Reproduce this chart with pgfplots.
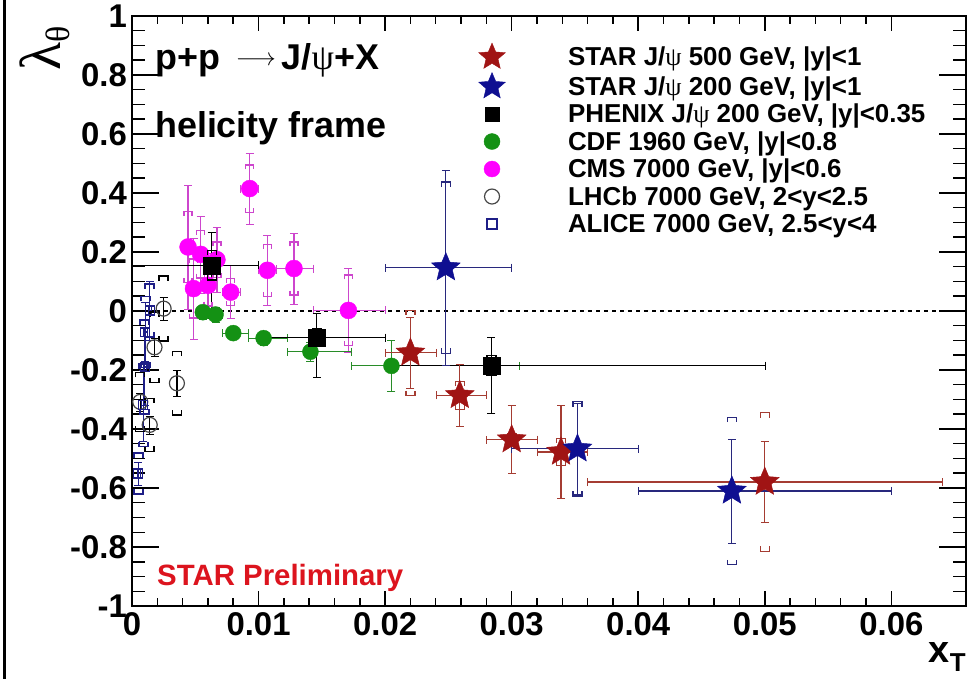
\documentclass[border=0pt]{standalone}
\usepackage{fontspec}
\setmainfont{Liberation Sans}
\newfontfamily\serifgr{Liberation Serif}
\usepackage{pgfplots}
\usepackage{pgfplotstable}
\pgfplotsset{compat=1.18}

\definecolor{red5}{RGB}{160,20,20}
\definecolor{red5e}{RGB}{165,60,50}
\definecolor{blu2}{RGB}{15,15,145}
\definecolor{blu2e}{RGB}{40,40,125}
\definecolor{cdfg}{RGB}{20,145,20}
\definecolor{cdfe}{RGB}{40,140,40}
\definecolor{cmsm}{RGB}{255,0,255}
\definecolor{cmse}{RGB}{205,70,205}
\definecolor{alic}{RGB}{30,30,135}
\definecolor{lhcb}{RGB}{70,70,70}
\definecolor{prelim}{RGB}{220,20,30}

\pgfdeclareplotmark{fstar}{%
  \pgfpathmoveto{\pgfpointpolar{90}{\pgfplotmarksize}}%
  \pgfpathlineto{\pgfpointpolar{126}{0.45\pgfplotmarksize}}%
  \pgfpathlineto{\pgfpointpolar{162}{\pgfplotmarksize}}%
  \pgfpathlineto{\pgfpointpolar{198}{0.45\pgfplotmarksize}}%
  \pgfpathlineto{\pgfpointpolar{234}{\pgfplotmarksize}}%
  \pgfpathlineto{\pgfpointpolar{270}{0.45\pgfplotmarksize}}%
  \pgfpathlineto{\pgfpointpolar{306}{\pgfplotmarksize}}%
  \pgfpathlineto{\pgfpointpolar{342}{0.45\pgfplotmarksize}}%
  \pgfpathlineto{\pgfpointpolar{18}{\pgfplotmarksize}}%
  \pgfpathlineto{\pgfpointpolar{54}{0.45\pgfplotmarksize}}%
  \pgfpathclose
  \pgfusepathqfillstroke
}
\pgfdeclareplotmark{sysup}{%
  \pgfpathmoveto{\pgfpoint{-\pgfplotmarksize}{-1.1\pgfplotmarksize}}%
  \pgfpathlineto{\pgfpoint{-\pgfplotmarksize}{0pt}}%
  \pgfpathlineto{\pgfpoint{\pgfplotmarksize}{0pt}}%
  \pgfpathlineto{\pgfpoint{\pgfplotmarksize}{-1.1\pgfplotmarksize}}%
  \pgfusepathqstroke
}
\pgfdeclareplotmark{sysdn}{%
  \pgfpathmoveto{\pgfpoint{-\pgfplotmarksize}{1.1\pgfplotmarksize}}%
  \pgfpathlineto{\pgfpoint{-\pgfplotmarksize}{0pt}}%
  \pgfpathlineto{\pgfpoint{\pgfplotmarksize}{0pt}}%
  \pgfpathlineto{\pgfpoint{\pgfplotmarksize}{1.1\pgfplotmarksize}}%
  \pgfusepathqstroke
}

% STAR J/psi 500 GeV
\pgfplotstableread{
x y xm xp ym yp sys
0.0220 -0.142 0.0020 0.0020 0.120 0.120 0.145
0.0259 -0.286 0.0019 0.0021 0.105 0.105 0.048
0.0300 -0.436 0.0020 0.0020 0.115 0.115 0.020
0.0339 -0.478 0.0019 0.0021 0.158 0.158 0.047
0.0500 -0.580 0.0140 0.0140 0.137 0.137 0.235
}\starfive
% STAR J/psi 200 GeV
\pgfplotstableread{
x y xm xp ym yp sys
0.0248 0.147 0.0048 0.0052 0.330 0.330 0.290
0.0352 -0.467 0.0052 0.0048 0.155 0.155 0.160
0.0474 -0.610 0.0074 0.0126 0.177 0.177 0.250
}\startwo
% PHENIX
\pgfplotstableread{
x y xm xp ym yp sys
0.0063 0.155 0.0063 0.0037 0.181 0.113 0.050
0.0146 -0.090 0.0046 0.0054 0.134 0.081 0.030
0.0284 -0.185 0.0084 0.0216 0.161 0.097 0.035
}\phenix
% CDF
\pgfplotstableread{
x y xm xp ym yp
0.0056 -0.004 0.0005 0.0005 0.025 0.025
0.0066 -0.012 0.0005 0.00054 0.025 0.025
0.0080 -0.075 0.00086 0.0012 0.020 0.020
0.0104 -0.092 0.0012 0.00184 0.025 0.025
0.0141 -0.138 0.00186 0.00325 0.032 0.032
0.0205 -0.186 0.00315 0.0101 0.087 0.087
}\cdf
% CMS
\pgfplotstableread{
x y xm xp ym yp sys
0.00443 0.217 0.00014 0.00014 0.21 0.21 0.12
0.00486 0.076 0.00029 0.00028 0.17 0.17 0.10
0.00543 0.192 0.00029 0.00028 0.13 0.13 0.08
0.00600 0.087 0.00029 0.00029 0.11 0.11 0.07
0.00671 0.174 0.00042 0.00043 0.11 0.11 0.06
0.00780 0.064 0.00066 0.00077 0.09 0.09 0.045
0.00930 0.415 0.00073 0.00070 0.12 0.12 0.08
0.01070 0.138 0.00070 0.00073 0.12 0.12 0.088
0.01280 0.144 0.00137 0.00149 0.12 0.12 0.09
0.01710 0.002 0.00281 0.00290 0.142 0.142 0.12
}\cms
% LHCb
\pgfplotstableread{
x y ym yp sys
0.00065 -0.308 0.03 0.03 0.10
0.00140 -0.386 0.03 0.03 0.09
0.00178 -0.123 0.03 0.03 0.12
0.00250 0.008 0.04 0.04 0.11
0.00355 -0.245 0.045 0.045 0.108
}\lhcb
% ALICE
\pgfplotstableread{
x y xm xp ym yp sys
0.00050 -0.551 0.00012 0.00012 0.04 0.04 0.07
0.00090 -0.320 0.00015 0.00015 0.12 0.12 0.14
0.00100 -0.190 0.00015 0.00015 0.13 0.13 0.16
0.00105 -0.071 0.00015 0.00015 0.10 0.10 0.12
0.00140 0.002 0.00015 0.00015 0.10 0.10 0.09
}\alice

\pgfplotsset{
  errxy/.style={error bars/.cd, x dir=both, x explicit, y dir=both, y explicit,
    error bar style={line width=1.2bp, color=#1, mark size=4bp}},
  erry/.style={error bars/.cd, y dir=both, y explicit,
    error bar style={line width=1.2bp, color=#1, mark size=4bp}},
  table/tabxy/.style={x=x, y=y, x error minus=xm, x error plus=xp, y error minus=ym, y error plus=yp},
}

\begin{document}
\begin{tikzpicture}
\useasboundingbox (-132bp,-73bp) rectangle (847bp,606bp);
\draw[line width=3bp] (-127bp,-73bp) -- (-127bp,606bp);
\begin{axis}[
  at={(0,0)}, anchor=south west,
  scale only axis, width=834bp, height=590bp,
  xmin=0, xmax=0.0659, ymin=-1, ymax=1,
  scaled ticks=false,
  xtick={0,0.01,0.02,0.03,0.04,0.05,0.06},
  xticklabels={0,0.01,0.02,0.03,0.04,0.05,0.06},
  ytick={-1,-0.8,-0.6,-0.4,-0.2,0,0.2,0.4,0.6,0.8,1},
  yticklabels={-1,-0.8,-0.6,-0.4,-0.2,0,0.2,0.4,0.6,0.8,1},
  minor x tick num=4, minor y tick num=3,
  tick align=inside,
  major tick length=27bp, minor tick length=13bp,
  xtick style={/pgfplots/major tick length=15bp, /pgfplots/minor tick length=8bp},
  every tick/.style={black, line width=1.5bp},
  axis line style={line width=1.8bp},
  /pgf/number format/assume math mode=true,
  ticklabel style={font=\bfseries\fontsize{33}{33}\selectfont},
  xticklabel style={inner sep=3bp, yshift=-3bp},
  yticklabel style={inner sep=3bp, xshift=-2bp},
  legend cell align=left,
  legend image code/.code={\path[draw=none,fill=none] (-14bp,-12bp) rectangle (76bp,12bp); \draw[#1] plot coordinates {(0bp,0bp)};},
  legend style={at={(0.4149,0.9542)}, anchor=north west, draw=none, fill=none,
    inner sep=0pt, outer sep=0pt, row sep=3.5bp, column sep=0bp,
    nodes={inner sep=0pt, anchor=west, font=\bfseries\fontsize{26}{26}\selectfont}},
]
\addplot[black, line width=2bp, dash pattern=on 4bp off 4bp, forget plot] coordinates {(0,0) (0.0659,0)};

% LHCb
\addplot[only marks, mark=sysup, mark size=4.5bp, black, line width=1.5bp, forget plot] table[x=x, y expr=\thisrow{y}+\thisrow{sys}] {\lhcb};
\addplot[only marks, mark=sysdn, mark size=4.5bp, black, line width=1.5bp, forget plot] table[x=x, y expr=\thisrow{y}-\thisrow{sys}] {\lhcb};
\addplot[only marks, mark=o, mark size=7.5bp, lhcb, mark options={line width=1.2bp, fill=white}, forget plot, erry=black]
  table[x=x, y=y, y error minus=ym, y error plus=yp] {\lhcb};

% ALICE
\addplot[only marks, mark=sysup, mark size=4.5bp, alic, line width=1.5bp, forget plot] table[x=x, y expr=\thisrow{y}+\thisrow{sys}] {\alice};
\addplot[only marks, mark=sysdn, mark size=4.5bp, alic, line width=1.5bp, forget plot] table[x=x, y expr=\thisrow{y}-\thisrow{sys}] {\alice};
\addplot[only marks, mark=square, mark size=4.5bp, alic, mark options={line width=1.2bp, fill=white}, forget plot, errxy=alic]
  table[tabxy] {\alice};

% CMS
\addplot[only marks, mark=sysup, mark size=4bp, cmse, line width=1.2bp, forget plot] table[x=x, y expr=\thisrow{y}+\thisrow{sys}] {\cms};
\addplot[only marks, mark=sysdn, mark size=4bp, cmse, line width=1.2bp, forget plot] table[x=x, y expr=\thisrow{y}-\thisrow{sys}] {\cms};
\addplot[only marks, mark=*, mark size=8.5bp, cmsm, mark options={draw=cmsm, fill=cmsm}, forget plot, errxy=cmse]
  table[tabxy] {\cms};

% CDF
\addplot[only marks, mark=*, mark size=8bp, cdfg, mark options={draw=cdfg, fill=cdfg}, forget plot, errxy=cdfe]
  table[tabxy] {\cdf};

% PHENIX
\addplot[only marks, mark=sysup, mark size=4.5bp, black, line width=1.2bp, forget plot] table[x=x, y expr=\thisrow{y}+\thisrow{sys}] {\phenix};
\addplot[only marks, mark=sysdn, mark size=4.5bp, black, line width=1.2bp, forget plot] table[x=x, y expr=\thisrow{y}-\thisrow{sys}] {\phenix};
\addplot[only marks, mark=square*, mark size=8.5bp, black, mark options={draw=black, fill=black}, forget plot, errxy=black]
  table[tabxy] {\phenix};

% STAR 500
\addplot[only marks, mark=sysup, mark size=4.5bp, red5e, line width=1.2bp, forget plot] table[x=x, y expr=\thisrow{y}+\thisrow{sys}] {\starfive};
\addplot[only marks, mark=sysdn, mark size=4.5bp, red5e, line width=1.2bp, forget plot] table[x=x, y expr=\thisrow{y}-\thisrow{sys}] {\starfive};
\addplot[only marks, mark=fstar, mark size=15bp, red5, mark options={draw=red5, fill=red5, line width=0.5bp}, forget plot, errxy=red5e]
  table[tabxy] {\starfive};

% STAR 200
\addplot[only marks, mark=sysup, mark size=4.5bp, blu2e, line width=1.2bp, forget plot] table[x=x, y expr=\thisrow{y}+\thisrow{sys}] {\startwo};
\addplot[only marks, mark=sysdn, mark size=4.5bp, blu2e, line width=1.2bp, forget plot] table[x=x, y expr=\thisrow{y}-\thisrow{sys}] {\startwo};
\addplot[only marks, mark=fstar, mark size=15bp, blu2, mark options={draw=blu2, fill=blu2, line width=0.5bp}, forget plot, errxy=blu2e]
  table[tabxy] {\startwo};

% legend
\addlegendimage{only marks, mark=fstar, mark size=14bp, red5, mark options={draw=red5, fill=red5}}
\addlegendentry{STAR J/{\mdseries\serifgr ψ} 500 GeV, |y|<1}
\addlegendimage{only marks, mark=fstar, mark size=14bp, blu2, mark options={draw=blu2, fill=blu2}}
\addlegendentry{STAR J/{\mdseries\serifgr ψ} 200 GeV, |y|<1}
\addlegendimage{only marks, mark=square*, mark size=7bp, black}
\addlegendentry{PHENIX J/{\mdseries\serifgr ψ} 200 GeV, |y|<0.35}
\addlegendimage{only marks, mark=*, mark size=8bp, cdfg, mark options={draw=cdfg, fill=cdfg}}
\addlegendentry{CDF 1960 GeV, |y|<0.8}
\addlegendimage{only marks, mark=*, mark size=8bp, cmsm, mark options={draw=cmsm, fill=cmsm}}
\addlegendentry{CMS 7000 GeV, |y|<0.6}
\addlegendimage{only marks, mark=o, mark size=7.5bp, lhcb, mark options={line width=1.2bp}}
\addlegendentry{LHCb 7000 GeV, 2<y<2.5}
\addlegendimage{only marks, mark=square, mark size=5bp, alic, mark options={line width=1.2bp}}
\addlegendentry{ALICE 7000 GeV, 2.5<y<4}
\end{axis}
\node[anchor=base west, inner sep=0pt, font=\bfseries\fontsize{36}{36}\selectfont] at (23bp,536bp) {p+p \,\raisebox{4bp}{$\longrightarrow$}\,J/{\mdseries\serifgr ψ}+X};
\node[anchor=base west, inner sep=0pt, font=\bfseries\fontsize{36}{36}\selectfont] at (23bp,468bp) {helicity frame};
\node[anchor=base west, inner sep=0pt, text=prelim, font=\bfseries\fontsize{29.5}{29.5}\selectfont] at (25bp,21bp) {STAR Preliminary};
\node[rotate=90, inner sep=0pt, font=\fontsize{58}{58}\selectfont\serifgr] at (-87bp,558bp) {λ\raisebox{-9bp}{\fontsize{34}{34}\selectfont θ}};
\node[anchor=east, inner sep=0pt, font=\bfseries\fontsize{38}{38}\selectfont] at (834bp,-51bp) {x\raisebox{-9bp}{\fontsize{26}{26}\selectfont T}};
\end{tikzpicture}
\end{document}
